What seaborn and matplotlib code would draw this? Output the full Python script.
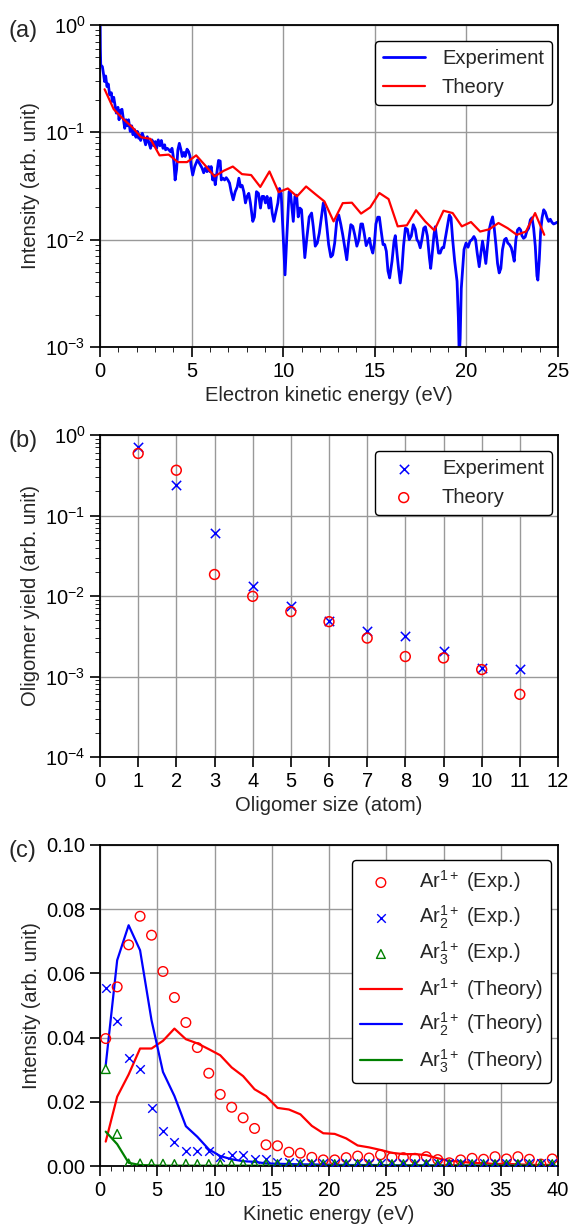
import numpy as np
import matplotlib
matplotlib.use("Agg")
import matplotlib.pyplot as plt
import seaborn as sns

# ---------------------------
# Data
# ---------------------------

# (a) electron spectrum
exp_energy = [
    0.00, 0.02, 0.04, 0.13, 0.20, 0.25, 0.31, 0.38, 0.45, 0.53, 0.62, 0.67, 0.75, 0.80, 0.89, 0.98,
    1.04, 1.11, 1.20, 1.27, 1.35, 1.42, 1.49, 1.56, 1.65, 1.73, 1.80, 1.89, 1.96, 2.04, 2.11, 2.16,
    2.22, 2.31, 2.40, 2.49, 2.58, 2.67, 2.76, 2.84, 2.93, 3.02, 3.09, 3.18, 3.27, 3.35, 3.44, 3.53,
    3.58, 3.67, 3.76, 3.85, 3.93, 4.00, 4.05, 4.10, 4.18, 4.25, 4.33, 4.42, 4.49, 4.58, 4.65, 4.75,
    4.84, 4.91, 4.98, 5.06, 5.17, 5.32, 5.44, 5.57, 5.66, 5.75, 5.84, 5.93, 6.00, 6.07, 6.15, 6.22,
    6.29, 6.36, 6.47, 6.56, 6.62, 6.71, 6.80, 6.89, 6.98, 7.07, 7.16, 7.27, 7.38, 7.49, 7.58, 7.67,
    7.76, 7.85, 7.94, 8.03, 8.12, 8.21, 8.34, 8.43, 8.54, 8.65, 8.76, 8.85, 8.94, 9.03, 9.12, 9.22,
    9.31, 9.40, 9.49, 9.60, 9.71, 9.80, 9.89, 9.96, 10.01, 10.10, 10.19, 10.32, 10.40, 10.48, 10.55,
    10.64, 10.73, 10.82, 10.91, 11.00, 11.09, 11.18, 11.28, 11.42, 11.55, 11.64, 11.75, 11.86, 11.97,
    12.08, 12.19, 12.28, 12.38, 12.48, 12.60, 12.70, 12.81, 12.92, 13.03, 13.14, 13.25, 13.38, 13.47,
    13.56, 13.69, 13.80, 13.91, 14.02, 14.13, 14.24, 14.33, 14.42, 14.53, 14.62, 14.71, 14.80, 14.89,
    14.98, 15.06, 15.16, 15.25, 15.34, 15.45, 15.54, 15.63, 15.72, 15.81, 15.94, 16.05, 16.12, 16.21,
    16.30, 16.39, 16.48, 16.57, 16.67, 16.78, 16.88, 16.99, 17.10, 17.21, 17.30, 17.39, 17.48, 17.57,
    17.67, 17.76, 17.87, 17.98, 18.05, 18.12, 18.23, 18.30, 18.39, 18.48, 18.57, 18.67, 18.76, 18.85,
    18.96, 19.07, 19.16, 19.25, 19.36, 19.49, 19.56, 19.61, 19.66, 19.72, 19.79, 19.87, 19.98, 20.09,
    20.20, 20.30, 20.41, 20.50, 20.59, 20.70, 20.79, 20.88, 20.97, 21.06, 21.15, 21.24, 21.35, 21.43,
    21.52, 21.61, 21.70, 21.79, 21.88, 21.97, 22.08, 22.17, 22.26, 22.35, 22.45, 22.52, 22.61, 22.70,
    22.79, 22.88, 22.96, 23.03, 23.12, 23.21, 23.30, 23.40, 23.49, 23.58, 23.67, 23.76, 23.85, 23.90,
    23.98, 24.05, 24.13, 24.22, 24.31, 24.40, 24.49, 24.58, 24.67, 24.76, 24.85, 24.94, 25.00,
]
exp_intensity = [
    1.5, 0.60, 0.425, 0.409, 0.343, 0.297, 0.335, 0.267, 0.282, 0.223, 0.234, 0.194, 0.212, 0.187, 0.151, 0.171,
    0.131, 0.160, 0.164, 0.136, 0.109, 0.131, 0.115, 0.131, 0.102, 0.115, 0.095, 0.106, 0.090, 0.102, 0.088, 0.095,
    0.084, 0.098, 0.088, 0.0765, 0.091, 0.080, 0.071, 0.085, 0.075, 0.082, 0.071, 0.085, 0.075, 0.084, 0.071, 0.0765,
    0.0687, 0.071, 0.0687, 0.066, 0.071, 0.0596, 0.048, 0.036, 0.045, 0.0687, 0.079, 0.0687, 0.0596, 0.065, 0.0596, 0.0697,
    0.066, 0.060, 0.048, 0.040, 0.048, 0.0555, 0.051, 0.0465, 0.042, 0.0465, 0.043, 0.048, 0.043, 0.048, 0.036, 0.040,
    0.0325, 0.040, 0.0547, 0.054, 0.036, 0.0374, 0.036, 0.0378, 0.036, 0.0337, 0.028, 0.0235, 0.028, 0.031, 0.0374, 0.031,
    0.032, 0.028, 0.022, 0.0253, 0.027, 0.022, 0.0148, 0.0163, 0.028, 0.027, 0.0197, 0.0253, 0.0253, 0.022, 0.0253, 0.0197,
    0.0245, 0.0177, 0.0148, 0.018, 0.022, 0.030, 0.027, 0.0153, 0.010, 0.0047, 0.010, 0.028, 0.027, 0.0197, 0.0148,
    0.0253, 0.026, 0.0163, 0.0197, 0.019, 0.0115, 0.0068, 0.010, 0.0163, 0.0177, 0.0133, 0.0087, 0.0093, 0.0115,
    0.0158, 0.022, 0.019, 0.0133, 0.009, 0.0069, 0.0072, 0.0093, 0.0148, 0.017, 0.014, 0.0111, 0.0081, 0.0065,
    0.0093, 0.0138, 0.0133, 0.011, 0.0087, 0.010, 0.014, 0.014, 0.0115, 0.0088, 0.0095, 0.0103, 0.0084, 0.0075,
    0.0093, 0.0140, 0.0162, 0.0162, 0.0123, 0.0090, 0.0090, 0.0078, 0.0051, 0.0044, 0.0063, 0.0097, 0.0109, 0.0075,
    0.0053, 0.00395, 0.0053, 0.0088, 0.0128, 0.0125, 0.010, 0.0108, 0.0138, 0.0125, 0.010, 0.0095, 0.0084, 0.010,
    0.0128, 0.0132, 0.0108, 0.0068, 0.0054, 0.007, 0.0111, 0.0132, 0.010, 0.0075, 0.0075, 0.0084, 0.0084, 0.0103,
    0.0132, 0.017, 0.016, 0.010, 0.0063, 0.0041, 0.0019, 0.0008, 0.0012, 0.0035, 0.0052, 0.0081, 0.0093, 0.0085,
    0.0097, 0.0100, 0.0107, 0.0100, 0.0075, 0.0056, 0.0075, 0.0097, 0.0078, 0.006, 0.0085, 0.0123, 0.0148, 0.0163,
    0.0128, 0.009, 0.006, 0.0049, 0.0054, 0.0081, 0.010, 0.0103, 0.0093, 0.009, 0.0084, 0.0075, 0.0063, 0.010,
    0.0123, 0.0128, 0.0123, 0.0109, 0.0103, 0.0106, 0.012, 0.0128, 0.0153, 0.016, 0.0128, 0.0087, 0.0046, 0.0042,
    0.0066, 0.0118, 0.016, 0.019, 0.018, 0.016, 0.0148, 0.0155, 0.0145, 0.014, 0.0142, 0.0145, 0.0145,
]

theory_energy = [0.25 + 0.5 * k for k in range(49)]
theory_intensity = [
    0.252, 0.164, 0.134, 0.112, 0.090, 0.087, 0.061, 0.062, 0.0528, 0.0528,
    0.061, 0.049, 0.0388, 0.0438, 0.048, 0.0408, 0.040, 0.031, 0.0432, 0.0277,
    0.030, 0.0253, 0.0313, 0.0266, 0.0227, 0.0148, 0.0219, 0.0221, 0.0175, 0.020,
    0.0272, 0.0239, 0.0133, 0.0136, 0.0188, 0.0148, 0.0122, 0.0186, 0.0177, 0.0133,
    0.0146, 0.0119, 0.0125, 0.0143, 0.0128, 0.0111, 0.0119, 0.0177, 0.0111,
]

# (b) oligomer yield
oligomer_size = [1, 2, 3, 4, 5, 6, 7, 8, 9, 10, 11]
yield_exp = [0.70, 0.238, 0.0605, 0.0132, 0.0076, 0.00495, 0.00366, 0.00316, 0.0021, 0.00128, 0.00124]
yield_theory = [0.59, 0.365, 0.0185, 0.0099, 0.0064, 0.0048, 0.0030, 0.00177, 0.0017, 0.00122, 0.0006]

# (c) ion kinetic energy spectra
ion_energy = [0.5 + k for k in range(40)]
ar1_exp = [
    0.0397, 0.0558, 0.0689, 0.0778, 0.0719, 0.0606, 0.0525, 0.0447, 0.0369, 0.0289,
    0.0223, 0.0183, 0.0150, 0.0117, 0.0066, 0.0063, 0.0043, 0.0040, 0.0027, 0.0019,
    0.0019, 0.0026, 0.0031, 0.0025, 0.0035, 0.0027, 0.0026, 0.0024, 0.0029, 0.0020,
    0.0010, 0.0019, 0.0024, 0.0021, 0.0029, 0.0022, 0.0029, 0.0021, 0.0006, 0.0022,
]
ar2_exp = [
    0.0553, 0.0452, 0.0335, 0.0303, 0.0181, 0.0108, 0.0074, 0.0046, 0.0047, 0.0046,
    0.0029, 0.0034, 0.0034, 0.0021, 0.0021, 0.0012, 0.0012, 0.0010, 0.0009, 0.0008,
    0.0010, 0.0008, 0.0009, 0.0008, 0.0009, 0.0010, 0.0008, 0.0009, 0.0008, 0.0009,
    0.0008, 0.0009, 0.0008, 0.0009, 0.0008, 0.0010, 0.0008, 0.0009, 0.0008, 0.0010,
]
ar3_exp = [
    0.0302, 0.0100, 0.0008, 0.0008, 0.0007, 0.0007, 0.0006, 0.0007, 0.0006, 0.0006,
    0.0006, 0.0006, 0.0006, 0.0006, 0.0006, 0.0006, 0.0006, 0.0006, 0.0006, 0.0006,
    0.0006, 0.0006, 0.0006, 0.0006, 0.0006, 0.0006, 0.0006, 0.0006, 0.0006, 0.0006,
    0.0006, 0.0006, 0.0006, 0.0006, 0.0006, 0.0006, 0.0006, 0.0006, 0.0006, 0.0006,
]
ar1_theory = [
    0.0076, 0.0216, 0.0285, 0.0366, 0.0366, 0.0390, 0.0428, 0.0395, 0.0382, 0.0364,
    0.0345, 0.0307, 0.0280, 0.0239, 0.0218, 0.0181, 0.0176, 0.0161, 0.0125, 0.0102,
    0.0100, 0.0086, 0.0064, 0.0058, 0.0050, 0.0041, 0.0037, 0.0037, 0.0034, 0.0024,
    0.0016, 0.0014, 0.0009, 0.0009, 0.0006, 0.0007, 0.0005, 0.0004, 0.0003, 0.0004,
]
ar2_theory = [
    0.0314, 0.0641, 0.0750, 0.0672, 0.0454, 0.0293, 0.0218, 0.0124, 0.0091, 0.0052,
    0.0031, 0.0021, 0.0015, 0.0013, 0.0008, 0.0007, 0.0006, 0.0005, 0.0005, 0.0004,
    0.0004, 0.0003, 0.0003, 0.0003, 0.0003, 0.0002, 0.0002, 0.0002, 0.0002, 0.0002,
    0.0002, 0.0002, 0.0001, 0.0001, 0.0001, 0.0001, 0.0001, 0.0001, 0.0001, 0.0001,
]
ar3_theory = [
    0.0107, 0.0068, 0.0010, 0.0003, 0.0002, 0.0001, 0.0001, 0.0001, 0.0001, 0.0001,
    0.0001, 0.0001, 0.0001, 0.0001, 0.0001, 0.0001, 0.0001, 0.0001, 0.0001, 0.0001,
    0.0001, 0.0001, 0.0001, 0.0001, 0.0001, 0.0001, 0.0001, 0.0001, 0.0001, 0.0001,
    0.0001, 0.0001, 0.0001, 0.0001, 0.0001, 0.0001, 0.0001, 0.0001, 0.0001, 0.0001,
]

# ---------------------------
# Style
# ---------------------------

sns.set_style("ticks")
plt.rcParams["font.family"] = ["Liberation Sans", "DejaVu Sans"]
plt.rcParams.update({
    "font.size": 14.5,
    "mathtext.fontset": "custom",
    "mathtext.rm": "Liberation Sans",
    "mathtext.it": "Liberation Sans:italic",
    "mathtext.bf": "Liberation Sans:bold",
    "axes.linewidth": 1.3,
    "axes.edgecolor": "black",
    "xtick.direction": "out",
    "ytick.direction": "out",
    "xtick.major.size": 7,
    "ytick.major.size": 7,
    "xtick.minor.size": 3.5,
    "ytick.minor.size": 3.5,
    "xtick.major.width": 1.2,
    "ytick.major.width": 1.2,
    "xtick.color": "black",
    "ytick.color": "black",
    "xtick.labelsize": 14.5,
    "ytick.labelsize": 14.5,
    "axes.labelsize": 14.5,
    "legend.fontsize": 14.5,
})

fig = plt.figure(figsize=(5.73, 12.28), dpi=100)
L, W = 100 / 573, 458 / 573
ax_a = fig.add_axes([L, 1 - 347 / 1228, W, 322 / 1228])
ax_b = fig.add_axes([L, 1 - 757 / 1228, W, 322 / 1228])
ax_c = fig.add_axes([L, 1 - 1166 / 1228, W, 321 / 1228])

legend_kw = dict(
    frameon=True, fancybox=True, framealpha=1, edgecolor="black",
    borderaxespad=0, handlelength=2.1, handletextpad=0.85,
)

# ---------------------------
# (a) Electron spectrum
# ---------------------------

sns.lineplot(x=exp_energy, y=exp_intensity, ax=ax_a, color="#0000ff",
             linewidth=2.0, sort=False, estimator=None, label="Experiment")
sns.lineplot(x=theory_energy, y=theory_intensity, ax=ax_a, color="#ff0000",
             linewidth=1.6, sort=False, estimator=None, label="Theory")
ax_a.set_yscale("log")
ax_a.set_xlim(0, 25)
ax_a.set_ylim(1e-3, 1)
ax_a.set_xticks(range(0, 26, 5))
ax_a.xaxis.set_minor_locator(matplotlib.ticker.MultipleLocator(1))
ax_a.set_xlabel("Electron kinetic energy (eV)")
ax_a.set_ylabel("Intensity (arb. unit)")
ax_a.legend(loc="upper right", bbox_to_anchor=(0.987, 0.95), **legend_kw)

# ---------------------------
# (b) Oligomer yield
# ---------------------------

sns.scatterplot(x=oligomer_size, y=yield_exp, ax=ax_b, marker="x", color="#0000ff",
                s=45, linewidth=1.1, label="Experiment")
sns.scatterplot(x=oligomer_size, y=yield_theory, ax=ax_b, marker="o", facecolor="none",
                edgecolor="#ff0000", s=50, linewidth=1.1, label="Theory")
ax_b.set_yscale("log")
ax_b.set_xlim(0, 12)
ax_b.set_ylim(1e-4, 1)
ax_b.set_xticks(range(0, 13))
ax_b.set_xlabel("Oligomer size (atom)")
ax_b.set_ylabel("Oligomer yield (arb. unit)")
ax_b.legend(loc="upper right", bbox_to_anchor=(0.987, 0.951), **legend_kw)

# ---------------------------
# (c) Ion kinetic energy
# ---------------------------

sns.scatterplot(x=ion_energy, y=ar1_exp, ax=ax_c, marker="o", facecolor="none",
                edgecolor="#ff0000", s=48, linewidth=1.0, label=r"Ar$^{1+}$ (Exp.)", zorder=3)
sns.scatterplot(x=ion_energy, y=ar2_exp, ax=ax_c, marker="x", color="#0000ff",
                s=38, linewidth=1.0, label=r"Ar$_2^{1+}$ (Exp.)", zorder=3)
sns.scatterplot(x=ion_energy, y=ar3_exp, ax=ax_c, marker="^", facecolor="none",
                edgecolor="#008000", s=40, linewidth=1.0, label=r"Ar$_3^{1+}$ (Exp.)", zorder=3)
sns.lineplot(x=ion_energy, y=ar1_theory, ax=ax_c, color="#ff0000", linewidth=1.6,
             sort=False, estimator=None, label=r"Ar$^{1+}$ (Theory)")
sns.lineplot(x=ion_energy, y=ar2_theory, ax=ax_c, color="#0000ff", linewidth=1.6,
             sort=False, estimator=None, label=r"Ar$_2^{1+}$ (Theory)")
sns.lineplot(x=ion_energy, y=ar3_theory, ax=ax_c, color="#008000", linewidth=1.6,
             sort=False, estimator=None, label=r"Ar$_3^{1+}$ (Theory)")
ax_c.set_xlim(0, 40)
ax_c.set_ylim(0, 0.10)
ax_c.set_xticks(range(0, 41, 5))
ax_c.xaxis.set_minor_locator(matplotlib.ticker.MultipleLocator(1))
ax_c.set_yticks(np.arange(0, 0.101, 0.02))
ax_c.yaxis.set_major_formatter(matplotlib.ticker.FormatStrFormatter("%.2f"))
ax_c.set_xlabel("Kinetic energy (eV)")
ax_c.set_ylabel("Intensity (arb. unit)")

handles, labels = ax_c.get_legend_handles_labels()
order = [r"Ar$^{1+}$ (Exp.)", r"Ar$_2^{1+}$ (Exp.)", r"Ar$_3^{1+}$ (Exp.)",
         r"Ar$^{1+}$ (Theory)", r"Ar$_2^{1+}$ (Theory)", r"Ar$_3^{1+}$ (Theory)"]
lookup = dict(zip(labels, handles))
ax_c.legend([lookup[k] for k in order], order, loc="upper right",
            bbox_to_anchor=(0.985, 0.953), labelspacing=0.45, **legend_kw)

# ---------------------------
# Common axis styling
# ---------------------------

for ax in (ax_a, ax_b, ax_c):
    ax.grid(True, which="major", color="0.6", linewidth=1.0)
    ax.set_axisbelow(True)
    for side in ("top", "right", "left", "bottom"):
        ax.spines[side].set_visible(True)
    ax.tick_params(which="both", top=False, right=False)

for tag, ypos in (("(a)", 1 - 31 / 1228), ("(b)", 1 - 441 / 1228), ("(c)", 1 - 851 / 1228)):
    fig.text(9 / 573, ypos, tag, fontsize=17, va="center", ha="left")

fig.savefig("out.png", dpi=100)
plt.close(fig)
